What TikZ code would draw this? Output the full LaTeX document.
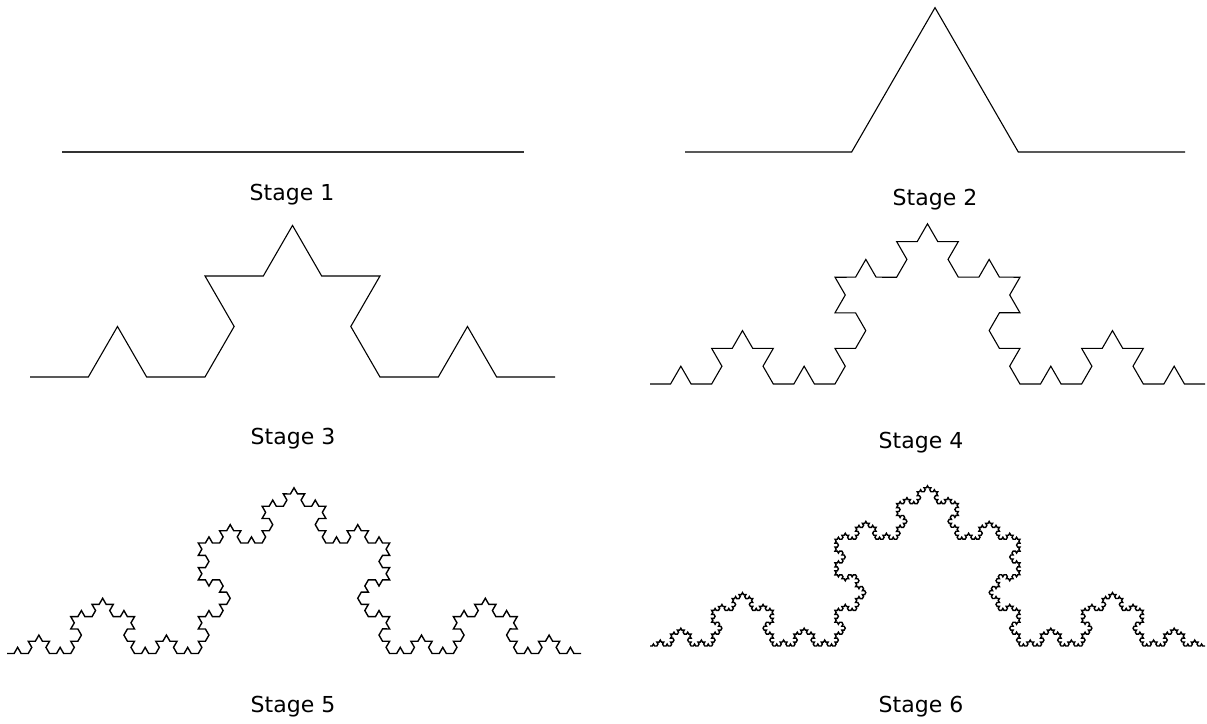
\documentclass[tikz,border=0pt]{standalone}
\usepackage{fontspec}
\setmainfont{DejaVu Sans}
\usetikzlibrary{decorations.fractals}

\begin{document}
\begin{tikzpicture}[
    x=1pt, y=-1pt,
    every node/.style={font=\fontsize{22}{26}\selectfont},
    koch/.style={draw=black, line width=1.1pt, line join=miter,
      decoration=Koch snowflake},
    dense/.style={koch, line width=1.4pt},
    flat/.style={draw=black!80, line width=2.2pt},
    lbl/.style={inner sep=0pt, anchor=base},
  ]
  \useasboundingbox (0,0) rectangle (1207,723);

  % ── End points of each stage ─────────────────────────
  \coordinate (s1a) at (62,152);    \coordinate (s1b) at (524,152);
  \coordinate (s2a) at (685,152);   \coordinate (s2b) at (1185,152);
  \coordinate (s3a) at (30,377);    \coordinate (s3b) at (555,377);
  \coordinate (s4a) at (650,384);   \coordinate (s4b) at (1205,384);
  \coordinate (s5a) at (7,653.5);   \coordinate (s5b) at (581,653.5);
  \coordinate (s6a) at (650,646);   \coordinate (s6b) at (1205,646);

  % ── Curves ───────────────────────────────────────────
  \draw[flat] (s1a) -- (s1b);
  \draw[koch] decorate{ (s2a) -- (s2b) };
  \draw[koch] decorate{ decorate{ (s3a) -- (s3b) }};
  \draw[koch] decorate{ decorate{ decorate{ (s4a) -- (s4b) }}};
  \draw[dense] decorate{ decorate{ decorate{ decorate{ (s5a) -- (s5b) }}}};
  \draw[dense] decorate{ decorate{ decorate{ decorate{ decorate{ (s6a) -- (s6b) }}}}};

  % ── Labels ───────────────────────────────────────────
  \node[lbl] (l1) at (292,200) {Stage 1};
  \node[lbl] (l2) at (935,205) {Stage 2};
  \node[lbl] (l3) at (293,444) {Stage 3};
  \node[lbl] (l4) at (921,448) {Stage 4};
  \node[lbl] (l5) at (293,712) {Stage 5};
  \node[lbl] (l6) at (921,712) {Stage 6};

\end{tikzpicture}
\end{document}
